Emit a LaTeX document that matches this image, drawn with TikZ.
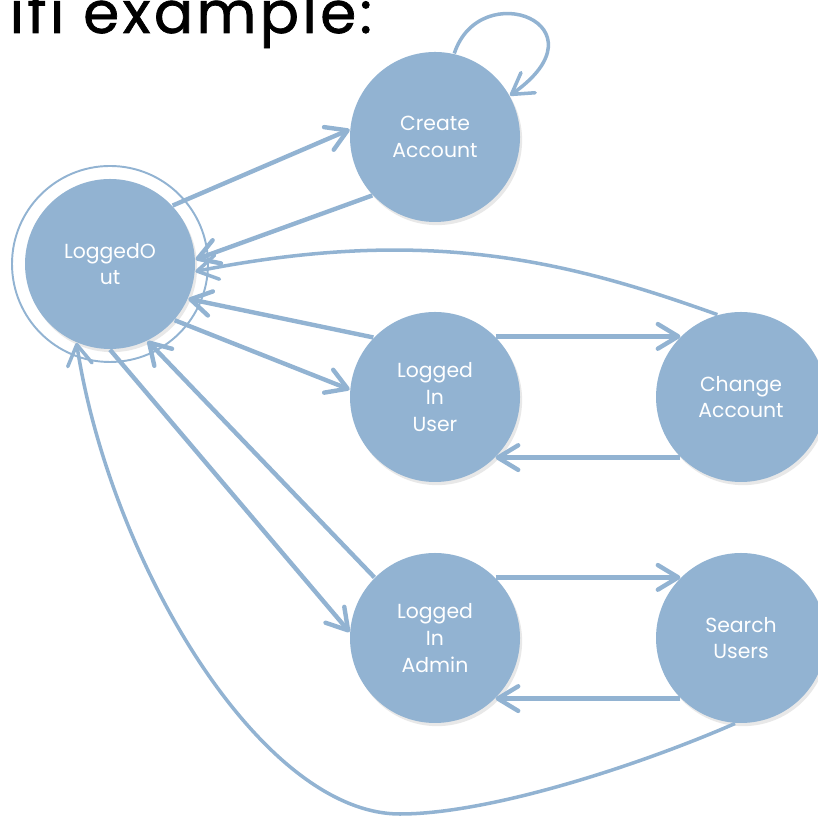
\documentclass[tikz,border=0pt]{standalone}
\usepackage{fontspec}
\setmainfont{Poppins}
\usetikzlibrary{arrows.meta,shadows}
\definecolor{stateblue}{RGB}{146,179,210}

\begin{document}
\begin{tikzpicture}[
    every node/.style={font=\fontsize{5.8}{7.6}\selectfont},
    state/.style={circle, fill=stateblue, text=white, minimum size=1.7cm, inner sep=0pt, align=center,
      drop shadow={shadow xshift=0.6pt, shadow yshift=-0.9pt, opacity=0.18}},
    trans/.style={draw=stateblue, line width=1.25pt, -{Straight Barb[length=5.8pt, width=7pt, round]}},
    curved/.style={trans, line width=1pt}
  ]
  \useasboundingbox (0,0) rectangle (8.17,8.18);

  \node[anchor=base west, inner sep=0pt, font=\fontsize{16.5}{20}\selectfont\addfontfeatures{LetterSpace=6,FakeBold=1.2}] (T) at (0.09,7.85) {ifi example:};

  \draw[stateblue, line width=0.55pt] (1.10,5.54) circle[radius=0.98];
  \node[state] (LO) at (1.10,5.54) {LoggedO\\ut};
  \node[state] (CA) at (4.35,6.81) {Create\\Account};
  \node[state] (LU) at (4.35,4.21) {Logged\\In\\User};
  \node[state] (CH) at (7.41,4.21) {Change\\Account};
  \node[state] (LA) at (4.35,1.80) {Logged\\In\\Admin};
  \node[state] (SU) at (7.41,1.80) {Search\\Users};

  \draw[trans] (LO.43) -- (CA.175);
  \draw[trans] (CA.223) -- (LO.3);
  \draw[curved] (CA.77) .. controls (4.80,8.43) and (6.10,7.93) .. (CA.29);
  \draw[curved] (CH.106) .. controls (5.70,5.56) and (4.30,5.93) .. (LO.-5);
  \draw[trans] (LU.136) -- (LO.-24);
  \draw[trans] (LO.-41) -- (LU.175);
  \draw[trans] (LU.45) -- (CH.135);
  \draw[trans] (CH.225) -- (LU.-45);
  \draw[trans] (LO.-90) -- (LA.176);
  \draw[trans] (LA.135) -- (LO.-64);
  \draw[trans] (LA.45) -- (SU.135);
  \draw[trans] (SU.225) -- (LA.-45);
  \draw[curved] (SU.266) .. controls (6.40,0.53) and (4.90,0.04) .. (4.00,0.04)
    .. controls (2.60,0.04) and (1.10,2.58) .. (LO.247);
\end{tikzpicture}
\end{document}
